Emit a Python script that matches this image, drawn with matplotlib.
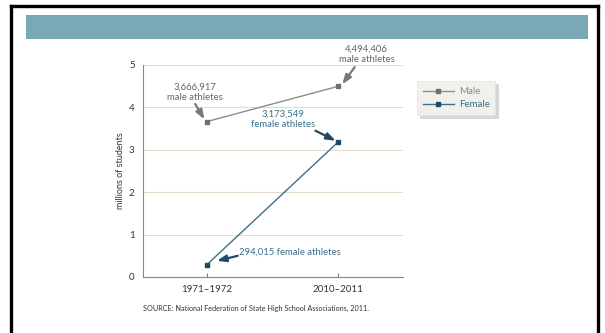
import matplotlib
matplotlib.use("Agg")
import matplotlib.pyplot as plt
from matplotlib.patches import Rectangle
from matplotlib.lines import Line2D

categories = ["1971\u20131972", "2010\u20132011"]
male = [3.666917, 4.494406]
female = [0.294015, 3.173549]
male_labels = ["3,666,917\nmale athletes", "4,494,406\nmale athletes"]
female_labels = ["294,015 female athletes", "3,173,549\nfemale athletes"]
yticks = [0, 1, 2, 3, 4, 5]
source = "SOURCE: National Federation of State High School Associations, 2011."

plt.rcParams['font.family'] = ['Lato', 'DejaVu Sans']

W, H = 605, 333
fig = plt.figure(figsize=(W/100, H/100), dpi=100)

def fx(px): return px / W
def fy(py): return 1 - py / H

# frame
fig.add_artist(Line2D([fx(10.5), fx(10.5)], [fy(5.5), fy(340)], color='black', lw=2.4))
fig.add_artist(Line2D([fx(10.5), fx(598)], [fy(5.5), fy(5.5)], color='black', lw=2.4))
fig.add_artist(Line2D([fx(598), fx(598)], [fy(5.5), fy(340)], color='black', lw=2.4))
# teal bar
fig.add_artist(Rectangle((fx(26), fy(39)), fx(588) - fx(26), fy(15) - fy(39),
                         facecolor='#7aa8b4', edgecolor='none'))

ax = fig.add_axes([fx(143), fy(277), fx(403) - fx(143), fy(65) - fy(277)])
x = list(range(len(categories)))
male_c = '#8c8c8c'
fem_c = '#3e6f8c'
ax.plot(x, male, color=male_c, lw=1.0, marker='s', ms=2.2, mfc='#6f6f6f', mec='#6f6f6f', label='Male', zorder=3)
ax.plot(x, female, color=fem_c, lw=1.0, marker='s', ms=2.2, mfc='#1f4a66', mec='#1f4a66', label='Female', zorder=3)

ax.set_xlim(-0.49, 1.5)
ax.set_ylim(0, 5)
ax.set_yticks(yticks)
ax.set_xticks(x)
ax.set_xticklabels(categories, fontsize=7, color='#333333')
ax.tick_params(axis='x', direction='in', length=3, color='#777777', pad=6)
ax.tick_params(axis='y', length=0, labelsize=7, labelcolor='#333333', pad=6)
ax.grid(axis='y', color='#e6dccb', lw=0.8)
ax.set_axisbelow(True)
for s in ['top', 'right']:
    ax.spines[s].set_visible(False)
for s in ['left', 'bottom']:
    ax.spines[s].set_color('#888888')
    ax.spines[s].set_linewidth(0.8)
ax.set_ylabel("millions of students", fontsize=6.5, color='#333333', labelpad=3)

arrow_g = dict(arrowstyle='-|>,head_length=0.55,head_width=0.2', color='#777777', lw=1.6, shrinkA=0, shrinkB=0)
arrow_b = dict(arrowstyle='-|>,head_length=0.55,head_width=0.2', color='#1f4a66', lw=1.6, shrinkA=0, shrinkB=0)

ax.annotate(male_labels[0], xy=(0, male[0]), xytext=(-0.09, 4.35), fontsize=6.8, color='#666666',
            ha='center', va='center', linespacing=1.25)
ax.annotate("", xy=(-0.02, male[0] + 0.05), xytext=(-0.09, 4.08), arrowprops=arrow_g)

ax.annotate(male_labels[1], xy=(1, male[1]), xytext=(1.22, 5.25), fontsize=6.8, color='#666666',
            ha='center', va='center', linespacing=1.25, annotation_clip=False)
ax.annotate("", xy=(1.035, male[1] + 0.05), xytext=(1.13, 4.95), arrowprops=arrow_g, annotation_clip=False)

ax.annotate(female_labels[1], xy=(1, female[1]), xytext=(0.58, 3.72), fontsize=6.8, color=fem_c,
            ha='center', va='center', linespacing=1.25)
ax.annotate("", xy=(0.985, female[1] + 0.04), xytext=(0.83, 3.45), arrowprops=arrow_b)

ax.annotate(female_labels[0], xy=(0, female[0]), xytext=(0.245, 0.58), fontsize=6.8, color=fem_c,
            ha='left', va='center')
ax.annotate("", xy=(0.075, 0.38), xytext=(0.235, 0.5), arrowprops=arrow_b)

fig.text(fx(143), fy(308), source, fontsize=5.2, color='#333333', ha='left', va='center')

leg = ax.legend(loc='center left', bbox_to_anchor=(fx(412), fy(98)), bbox_transform=fig.transFigure,
                fontsize=7, frameon=True, fancybox=False, shadow={'color': '#bbbbbb', 'alpha': 0.6},
                handlelength=3.2, borderpad=0.6, labelspacing=0.4, handletextpad=0.5)
leg.get_frame().set_facecolor('#f1f0eb')
leg.get_frame().set_edgecolor('#e4e2dc')
leg.get_frame().set_linewidth(0.5)
for t, c in zip(leg.get_texts(), [male_c, fem_c]):
    t.set_color(c)

fig.savefig("out.png", dpi=100)
